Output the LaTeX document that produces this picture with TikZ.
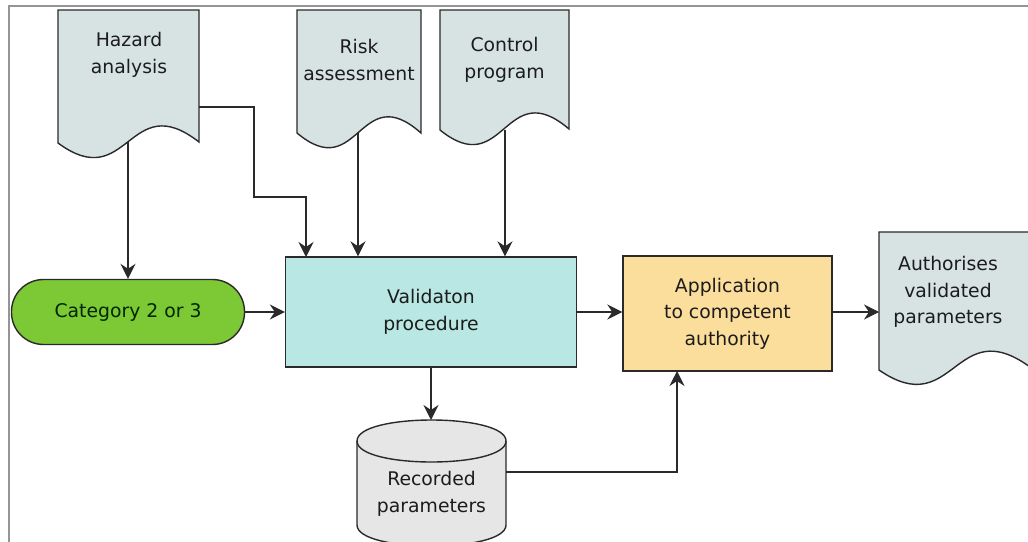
\documentclass[tikz,border=0pt]{standalone}
\usepackage{fontspec}
\setmainfont{DejaVu Sans}
\usetikzlibrary{arrows.meta}
\definecolor{docfill}{HTML}{D7E3E3}
\definecolor{valfill}{HTML}{B9E7E3}
\definecolor{appfill}{HTML}{FCDE9C}
\definecolor{catfill}{HTML}{7DC835}
\definecolor{cylfill}{HTML}{E6E6E6}
\definecolor{edge}{HTML}{2A2A2A}
\definecolor{txt}{HTML}{1C1C1C}
\definecolor{frame}{HTML}{959595}
\tikzset{
  shapeline/.style={draw=edge, line width=1.4pt},
  lbl/.style={text=txt, align=center, font=\fontsize{18.8}{26.5}\selectfont, inner sep=0pt},
  conn/.style={draw=edge, line width=1.5pt, -{Stealth[length=15pt, width=15pt, inset=5pt]}},
  boxnode/.style={shapeline, rectangle, inner sep=0pt, text=txt, align=center,
    font=\fontsize{18.8}{26.5}\selectfont},
}
% document shape: x1, x2, ytop, yleft, yright
\newcommand{\docshape}[5]{%
  \path[shapeline, fill=docfill] (#1,#4) -- (#1,#3) -- (#2,#3) -- (#2,#5)
    .. controls ({(#1+#2)/2},{#5-55}) and ({(#1+#2)/2},{#4+52}) .. cycle;}
\begin{document}
\begin{tikzpicture}[x=1pt, y=-1pt]
\useasboundingbox (0,0) rectangle (1028,541);
\clip (0,0) rectangle (1028,541);
\fill[white] (0,0) rectangle (1028,541);
% frame
\draw[frame, line width=2pt] (9,545) -- (9,6) -- (1035,6);

% documents
\docshape{58}{199}{10}{143}{142}
\docshape{297}{421}{10}{133}{133}
\docshape{440}{569}{10}{130}{129}
\docshape{879}{1030}{232}{370}{367}

\node[lbl] (haz) at (129,55) {Hazard\\analysis};
\node[lbl] (risk) at (359,60) {Risk\\assessment};
\node[lbl] (ctrl) at (504.5,60) {Control\\program};
\node[lbl] (auth) at (948,292) {Authorises\\validated\\parameters};

\coordinate (hazB) at (128,142);
\coordinate (hazR) at (199,107);
\coordinate (riskB) at (358,133);
\coordinate (ctrlB) at (505,130);
\coordinate (authL) at (879,312);

% category
\node[boxnode, fill=catfill, rounded corners=32pt, minimum width=233pt, minimum height=65pt,
  text=black!85!green] (cat) at (128,312) {Category 2 or 3};
% validation
\node[boxnode, fill=valfill, minimum width=291pt, minimum height=110pt] (val) at (431,312) {Validaton\\procedure};
% application
\node[boxnode, fill=appfill, minimum width=209pt, minimum height=115pt] (app) at (727.5,313.5) {Application\\to competent\\authority};

% cylinder
\path[shapeline, fill=cylfill] (357,441) -- (357,525) .. controls (357,553) and (506,553) .. (506,525)
  -- (506,441) .. controls (506,413) and (357,413) .. cycle;
\draw[shapeline] (357,441) .. controls (357,469) and (506,469) .. (506,441);
\node[lbl] (cyl) at (431.5,494) {Recorded\\parameters};
\coordinate (cylT) at (431,420);
\coordinate (cylR) at (506,472);

% connectors
\draw[conn] (hazB) -- (cat.north);
\draw[conn] (hazR) -- (254,107) -- (254,197) -- (306,197) -- (306,257);
\draw[conn] (riskB) -- (riskB |- val.north);
\draw[conn] (ctrlB) -- (ctrlB |- val.north);
\draw[conn] (cat.east) -- (cat.east -| val.west);
\draw[conn] (val.east) -- (val.east -| app.west);
\draw[conn] (val.south) -- (cylT);
\draw[conn] (cylR) -- (677,472) -- (677,371);
\draw[conn] (app.east |- authL) -- (authL);
\end{tikzpicture}
\end{document}
